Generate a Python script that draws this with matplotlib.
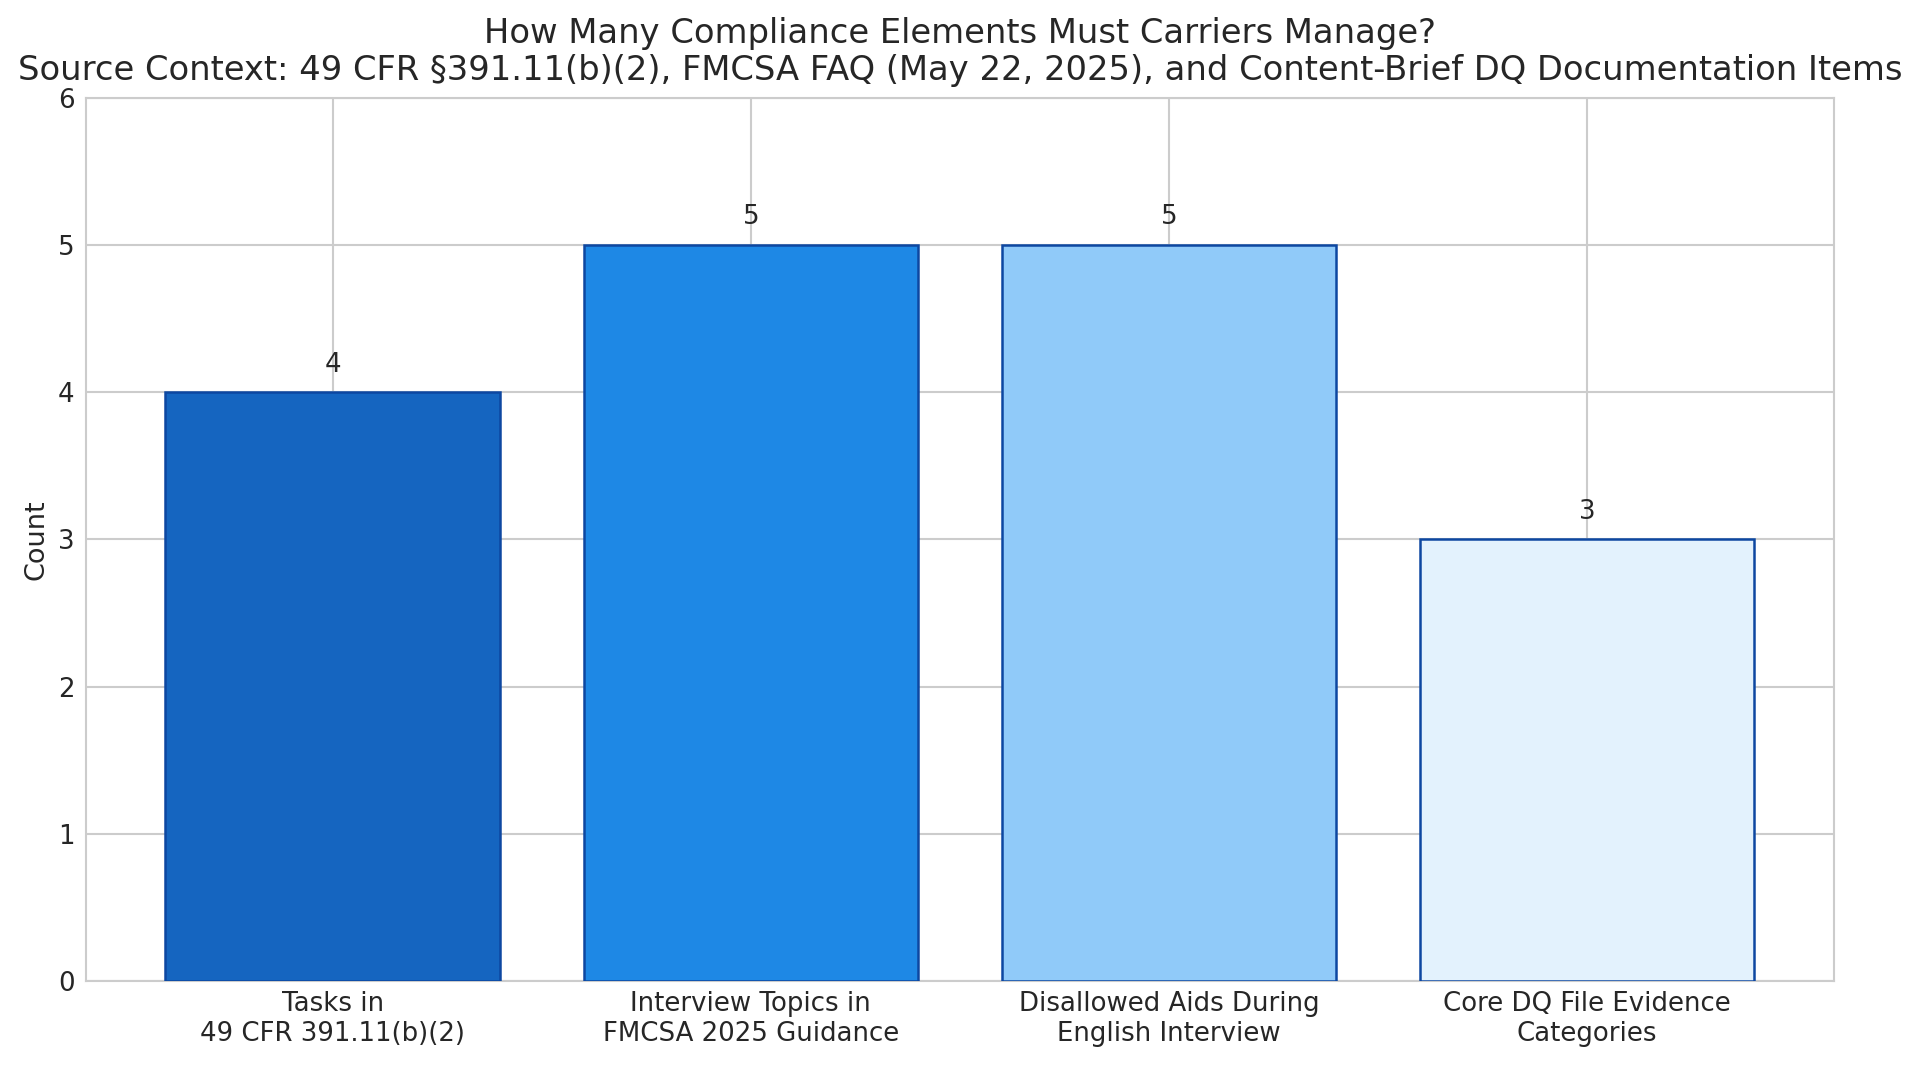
import matplotlib
matplotlib.use("Agg")
import matplotlib.pyplot as plt
import seaborn as sns

categories = [
    "Tasks in\n49 CFR 391.11(b)(2)",
    "Interview Topics in\nFMCSA 2025 Guidance",
    "Disallowed Aids During\nEnglish Interview",
    "Core DQ File Evidence\nCategories",
]
counts = [4, 5, 5, 3]
bar_colors = ["#1565C0", "#1E88E5", "#90CAF9", "#E3F2FD"]
edge_color = "#0D47A1"
title = ("How Many Compliance Elements Must Carriers Manage?\n"
         "Source Context: 49 CFR \u00a7391.11(b)(2), FMCSA FAQ (May 22, 2025), "
         "and Content-Brief DQ Documentation Items")

sns.set_theme(style="whitegrid")
plt.rcParams['font.family'] = ['DejaVu Sans']

fig = plt.figure(figsize=(12.8, 7.1), dpi=150)
ax = fig.add_axes([0.0448, 0.079, 0.9102, 0.829])

x = list(range(len(categories)))
bars = ax.bar(x, counts, width=0.8, color=bar_colors, edgecolor=edge_color,
              linewidth=1.2, zorder=3)
ax.set_axisbelow(True)
ax.set_ylim(0, 6)
ax.set_xticks(x)
ax.set_xticklabels(categories, fontsize=12.5, color="#262626")
ax.tick_params(axis="y", labelsize=12.5, colors="#262626", pad=-0.5)
ax.tick_params(axis="x", pad=-1)
ax.set_ylabel("Count", fontsize=13, color="#262626", labelpad=4)
ax.set_title(title, fontsize=16.2, color="#262626", pad=8.5, linespacing=1.15)
ax.grid(True, color="#cccccc", linewidth=1.0)
for s in ax.spines.values():
    s.set_color("#cccccc")
    s.set_linewidth(1.0)

for xi, v in zip(x, counts):
    ax.text(xi, v + 0.1, str(v), ha="center", va="bottom", fontsize=12.5,
            color="#262626", zorder=4)

fig.savefig("out.png", dpi=150)
